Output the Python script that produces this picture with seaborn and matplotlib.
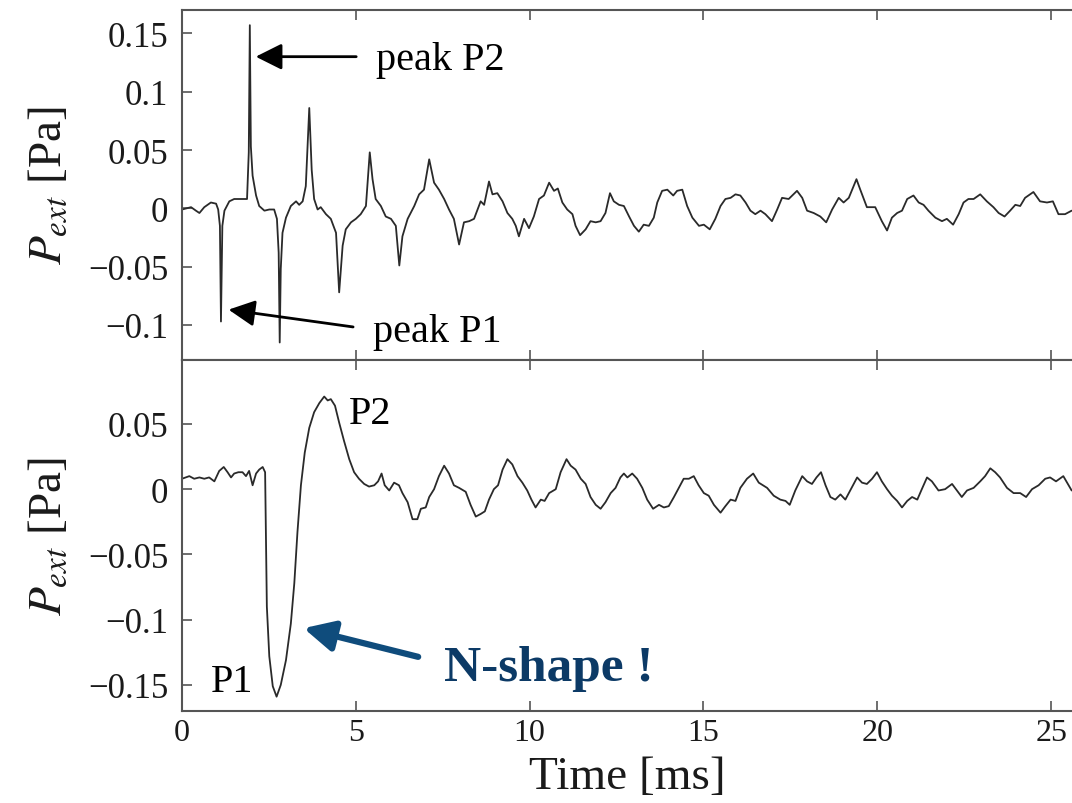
import numpy as np
import matplotlib
matplotlib.use("Agg")
import matplotlib.pyplot as plt
import seaborn as sns

# (time [ms], pressure [Pa])
top_pts = [
    (0.00, -0.001), (0.26, 0.001), (0.40, -0.002), (0.50, -0.004), (0.64, 0.001),
    (0.83, 0.005), (0.98, 0.004), (1.04, -0.001), (1.09, -0.015), (1.12, -0.097),
    (1.16, -0.015), (1.22, -0.002), (1.36, 0.006), (1.50, 0.008), (1.70, 0.008),
    (1.87, 0.008), (1.92, 0.048), (1.95, 0.157), (1.98, 0.053), (2.03, 0.028),
    (2.13, 0.011), (2.22, 0.002), (2.37, -0.002), (2.51, -0.001), (2.65, -0.001),
    (2.73, -0.009), (2.78, -0.038), (2.81, -0.115), (2.84, -0.052), (2.89, -0.021),
    (2.99, -0.008), (3.13, 0.002), (3.28, 0.006), (3.37, 0.003), (3.47, 0.006),
    (3.56, 0.019), (3.66, 0.086), (3.73, 0.033), (3.80, 0.008), (3.90, -0.001),
    (3.99, 0.001), (4.14, -0.005), (4.28, -0.009), (4.43, -0.021), (4.52, -0.072),
    (4.62, -0.032), (4.71, -0.018), (4.86, -0.012), (5.00, -0.009), (5.14, -0.005),
    (5.29, 0.002), (5.40, 0.048), (5.48, 0.025), (5.57, 0.008), (5.72, 0.002),
    (5.86, -0.007), (6.01, -0.009), (6.15, -0.015), (6.25, -0.049), (6.34, -0.024),
    (6.49, -0.009), (6.68, 0.002), (6.82, 0.012), (6.96, 0.016), (7.11, 0.042),
    (7.25, 0.022), (7.39, 0.016), (7.54, 0.008), (7.68, -0.001), (7.82, -0.009),
    (7.97, -0.031), (8.11, -0.012), (8.26, -0.011), (8.40, -0.009), (8.50, -0.001),
    (8.59, 0.006), (8.69, 0.003), (8.83, 0.023), (8.93, 0.012), (9.07, 0.013),
    (9.22, 0.006), (9.36, -0.004), (9.50, -0.009), (9.60, -0.015), (9.69, -0.024),
    (9.84, -0.009), (9.98, -0.017), (10.12, -0.007), (10.27, 0.008), (10.41, 0.011),
    (10.56, 0.022), (10.70, 0.015), (10.81, 0.017), (10.94, 0.005), (11.08, -0.001),
    (11.23, -0.005), (11.32, -0.015), (11.45, -0.023), (11.61, -0.018), (11.75, -0.011),
    (11.90, -0.012), (12.04, -0.011), (12.18, -0.004), (12.31, 0.013), (12.42, 0.006),
    (12.57, 0.003), (12.71, 0.002), (12.86, -0.007), (13.00, -0.015), (13.14, -0.020),
    (13.28, -0.014), (13.43, -0.015), (13.57, -0.008), (13.67, 0.005), (13.81, 0.015),
    (13.96, 0.016), (14.13, 0.011), (14.24, 0.015), (14.39, 0.016), (14.53, 0.002),
    (14.68, -0.008), (14.87, -0.015), (15.01, -0.014), (15.18, -0.018), (15.34, -0.009),
    (15.49, 0.002), (15.63, 0.008), (15.78, 0.009), (15.92, 0.012), (16.06, 0.011),
    (16.21, 0.005), (16.35, -0.002), (16.49, -0.005), (16.64, -0.002), (16.78, -0.005),
    (16.97, -0.011), (17.12, -0.001), (17.26, 0.009), (17.45, 0.008), (17.69, 0.015),
    (17.84, 0.009), (17.98, -0.002), (18.17, -0.004), (18.36, -0.007), (18.53, -0.012),
    (18.70, -0.001), (18.89, 0.009), (19.03, 0.005), (19.18, 0.009), (19.40, 0.025),
    (19.51, 0.016), (19.70, 0.001), (19.94, 0.001), (20.13, -0.011), (20.28, -0.019),
    (20.42, -0.008), (20.57, -0.004), (20.71, -0.002), (20.86, 0.008), (21.04, 0.011),
    (21.19, 0.005), (21.33, 0.003), (21.47, -0.002), (21.67, -0.008), (21.86, -0.011),
    (22.00, -0.009), (22.18, -0.014), (22.34, -0.005), (22.48, 0.005), (22.62, 0.008),
    (22.77, 0.008), (22.96, 0.012), (23.15, 0.006), (23.34, 0.001), (23.49, -0.004),
    (23.66, -0.007), (23.82, -0.002), (23.97, 0.003), (24.11, 0.002), (24.25, 0.009),
    (24.49, 0.014), (24.68, 0.006), (24.88, 0.005), (25.05, 0.006), (25.21, -0.005),
    (25.40, -0.005), (25.59, -0.002),
]

bottom_pts = [
    (0.00, 0.008), (0.21, 0.010), (0.35, 0.008), (0.50, 0.009), (0.64, 0.008),
    (0.78, 0.009), (0.93, 0.006), (1.07, 0.014), (1.20, 0.017), (1.31, 0.013),
    (1.41, 0.009), (1.50, 0.012), (1.62, 0.013), (1.74, 0.013), (1.84, 0.010),
    (1.93, 0.014), (2.03, 0.003), (2.13, 0.012), (2.22, 0.015), (2.32, 0.017),
    (2.39, 0.013), (2.41, -0.031), (2.44, -0.090), (2.51, -0.128), (2.61, -0.151),
    (2.72, -0.159), (2.84, -0.150), (2.99, -0.131), (3.13, -0.103), (3.23, -0.072),
    (3.32, -0.033), (3.42, 0.003), (3.53, 0.028), (3.66, 0.047), (3.80, 0.059),
    (3.95, 0.066), (4.09, 0.071), (4.19, 0.068), (4.28, 0.069), (4.40, 0.064),
    (4.52, 0.051), (4.66, 0.037), (4.81, 0.023), (4.95, 0.013), (5.09, 0.008),
    (5.24, 0.004), (5.38, 0.002), (5.53, 0.003), (5.64, 0.006), (5.74, 0.012),
    (5.83, 0.003), (5.96, -0.001), (6.10, 0.005), (6.24, 0.003), (6.34, -0.003),
    (6.49, -0.010), (6.63, -0.023), (6.77, -0.023), (6.87, -0.015), (7.01, -0.014),
    (7.11, -0.006), (7.25, 0.000), (7.39, 0.010), (7.54, 0.018), (7.68, 0.012),
    (7.82, 0.003), (7.97, 0.001), (8.16, -0.002), (8.30, -0.012), (8.45, -0.021),
    (8.59, -0.019), (8.71, -0.017), (8.83, -0.008), (8.97, 0.000), (9.09, 0.003),
    (9.22, 0.015), (9.36, 0.023), (9.50, 0.019), (9.65, 0.010), (9.79, 0.005),
    (9.93, -0.001), (10.05, -0.008), (10.17, -0.014), (10.32, -0.008), (10.43, -0.009),
    (10.56, -0.003), (10.75, 0.000), (10.89, 0.013), (11.06, 0.023), (11.18, 0.018),
    (11.32, 0.015), (11.47, 0.008), (11.61, 0.004), (11.75, -0.006), (11.90, -0.012),
    (12.04, -0.015), (12.18, -0.010), (12.33, -0.003), (12.47, 0.001), (12.61, 0.009),
    (12.71, 0.012), (12.81, 0.009), (12.95, 0.012), (13.09, 0.008), (13.24, 0.001),
    (13.38, -0.008), (13.55, -0.015), (13.72, -0.012), (13.86, -0.014), (14.00, -0.013),
    (14.15, -0.006), (14.29, 0.001), (14.43, 0.008), (14.58, 0.008), (14.72, 0.010),
    (14.86, 0.003), (15.01, -0.003), (15.15, -0.005), (15.30, -0.012), (15.49, -0.018),
    (15.63, -0.013), (15.78, -0.008), (15.92, -0.009), (16.06, 0.001), (16.25, 0.008),
    (16.43, 0.012), (16.59, 0.005), (16.83, 0.001), (17.02, -0.005), (17.21, -0.008),
    (17.36, -0.009), (17.48, -0.012), (17.64, -0.001), (17.84, 0.010), (17.98, 0.006),
    (18.12, 0.004), (18.25, 0.009), (18.38, 0.013), (18.51, 0.003), (18.65, -0.006),
    (18.79, -0.008), (18.94, -0.004), (19.08, -0.008), (19.22, -0.001), (19.42, 0.009),
    (19.56, 0.005), (19.70, 0.004), (19.85, 0.008), (19.99, 0.013), (20.13, 0.006),
    (20.28, 0.000), (20.42, -0.005), (20.57, -0.009), (20.71, -0.014), (20.86, -0.009),
    (21.00, -0.006), (21.15, -0.008), (21.28, 0.000), (21.43, 0.009), (21.57, 0.006),
    (21.76, -0.001), (21.95, 0.000), (22.15, 0.004), (22.29, -0.001), (22.43, -0.006),
    (22.58, -0.001), (22.77, 0.001), (22.96, 0.006), (23.10, 0.010), (23.25, 0.016),
    (23.39, 0.013), (23.53, 0.009), (23.73, 0.001), (23.92, -0.003), (24.11, -0.003),
    (24.28, -0.006), (24.45, 0.000), (24.64, 0.003), (24.83, 0.008), (24.97, 0.009),
    (25.14, 0.006), (25.35, 0.010), (25.59, -0.001),
]

x_ticks = [0, 5, 10, 15, 20, 25]
top_yticks = [0.15, 0.1, 0.05, 0, -0.05, -0.1]
top_ylabels = ["0.15", "0.1", "0.05", "0", "\u22120.05", "\u22120.1"]
bot_yticks = [0.05, 0, -0.05, -0.1, -0.15]
bot_ylabels = ["0.05", "0", "\u22120.05", "\u22120.1", "\u22120.15"]

sns.set_theme(style="ticks")
plt.rcParams["font.family"] = ["Liberation Serif", "DejaVu Serif"]
plt.rcParams["mathtext.fontset"] = "stix"

LINE = "#2a2a2a"
SPINE = "#555555"
NAVY = "#0c3a66"
ARROW_BLUE = "#0f4c7c"

fig = plt.figure(figsize=(10.72, 8.04), dpi=100)
ax1 = fig.add_axes([0.1698, 0.551, 0.8302, 0.4353])
ax2 = fig.add_axes([0.1698, 0.1144, 0.8302, 0.4366])

top = np.array(top_pts)
bot = np.array(bottom_pts)
sns.lineplot(x=top[:, 0], y=top[:, 1], ax=ax1, color=LINE, lw=1.3, estimator=None)
sns.lineplot(x=bot[:, 0], y=bot[:, 1], ax=ax2, color=LINE, lw=1.3, estimator=None)

for ax, yt, yl, lim in [(ax1, top_yticks, top_ylabels, (-0.130, 0.170)),
                        (ax2, bot_yticks, bot_ylabels, (-0.170, 0.099))]:
    ax.set_xlim(0, 25.6)
    ax.set_ylim(*lim)
    ax.set_xticks(x_ticks)
    ax.set_yticks(yt)
    ax.set_yticklabels(yl)
    ax.tick_params(axis="both", direction="in", length=7, width=1.2, color=SPINE,
                   labelcolor="#1a1a1a", top=True)
    ax.tick_params(axis="y", labelsize=25, pad=10)
    ax.tick_params(axis="x", labelsize=23, pad=5)
    ax.spines["right"].set_visible(False)
    for s in ["left", "top", "bottom"]:
        ax.spines[s].set_color(SPINE)
        ax.spines[s].set_linewidth(1.5)
    ax.set_ylabel(r"$P_{ext}$ [Pa]", fontsize=34, color="#1a1a1a")
    ax.yaxis.set_label_coords(-0.125, 0.5)

ax1.set_xticklabels([])
ax1.set_xlabel("")
ax2.set_xlabel("Time [ms]", fontsize=34, color="#1a1a1a", labelpad=6)

# top panel annotations
ax1.annotate("", xy=(2.04, 0.130), xytext=(5.09, 0.130),
             arrowprops=dict(arrowstyle="-|>", mutation_scale=40, lw=2, color="black"))
ax1.text(5.57, 0.128, "peak P2", fontsize=29, ha="left", va="center", color="black")
ax1.annotate("", xy=(1.26, -0.0865), xytext=(5.0, -0.102),
             arrowprops=dict(arrowstyle="-|>", mutation_scale=40, lw=2, color="black"))
ax1.text(5.49, -0.106, "peak P1", fontsize=29, ha="left", va="center", color="black")

# bottom panel annotations
ax2.text(4.80, 0.058, "P2", fontsize=29, ha="left", va="center", color="black")
ax2.text(0.83, -0.147, "P1", fontsize=29, ha="left", va="center", color="black")
ax2.annotate("", xy=(3.42, -0.106), xytext=(6.87, -0.129),
             arrowprops=dict(arrowstyle="-|>", mutation_scale=46, lw=4.5,
                             color=ARROW_BLUE))
ax2.text(7.53, -0.137, "N-shape !", fontsize=37, fontweight="bold", ha="left",
         va="center", color=NAVY)

fig.savefig("out.png", dpi=100)
